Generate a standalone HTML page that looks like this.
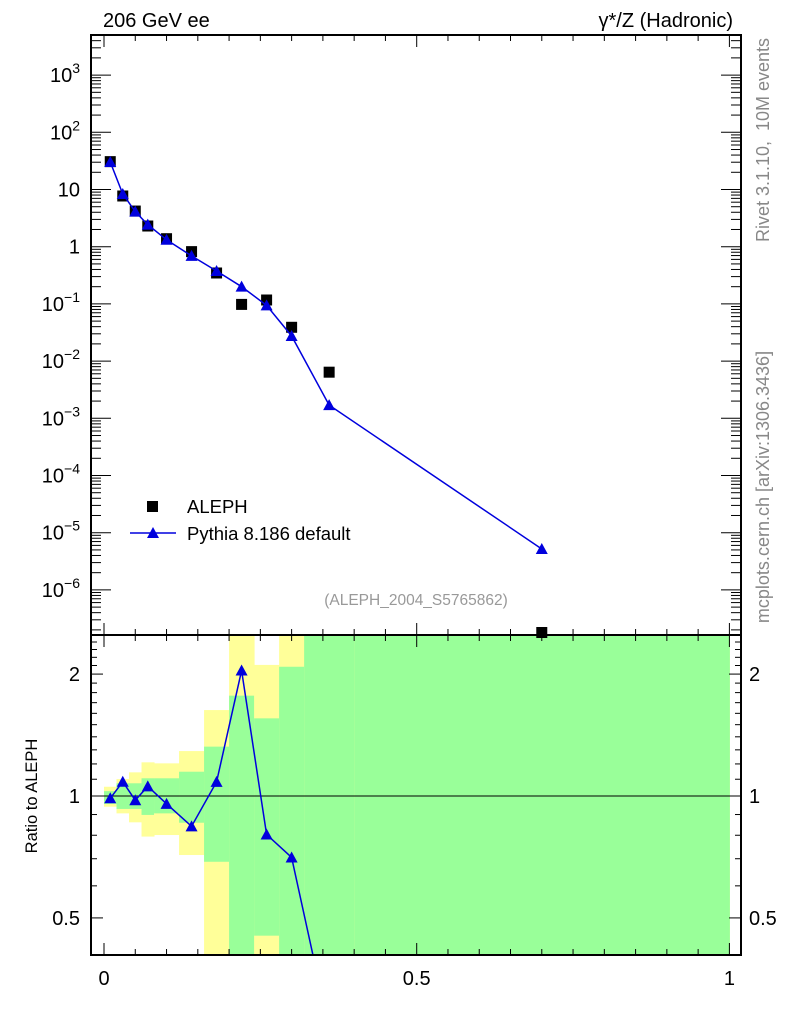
<!DOCTYPE html>
<html><head><meta charset="utf-8">
<style>
html,body{margin:0;padding:0;background:#fff;}
svg{display:block;font-family:"Liberation Sans",Arial,sans-serif;}
</style></head>
<body>
<svg id="chart" width="786" height="1024" viewBox="0 0 786 1024" xmlns="http://www.w3.org/2000/svg">
<g id="bands"></g>
<g id="ratio"></g>
<g id="main"></g>
<g id="axes"></g>
<text x="103" y="27" font-size="20">206 GeV ee</text>
<text x="733" y="27" font-size="20" text-anchor="end">γ*/Z (Hadronic)</text>
<text transform="translate(769,140) rotate(-90)" font-size="18" fill="#888" text-anchor="middle" xml:space="preserve">Rivet 3.1.10,  10M events</text>
<text transform="translate(769,487) rotate(-90)" font-size="18" fill="#888" text-anchor="middle">mcplots.cern.ch [arXiv:1306.3436]</text>
<text x="416" y="605" font-size="15.5" fill="#999" text-anchor="middle">(ALEPH_2004_S5765862)</text>
<text transform="translate(37,796) rotate(-90)" font-size="16.5" text-anchor="middle">Ratio to ALEPH</text>
<g>
  <rect x="147" y="501" width="11" height="11" fill="#000"/>
  <text x="187" y="513" font-size="18.5">ALEPH</text>
  <line x1="130" y1="533" x2="176" y2="533" stroke="#0000dd" stroke-width="1.5"/>
  <polygon points="153,527 159,538 147,538" fill="#0000dd"/>
  <text x="187" y="540" font-size="18.5">Pythia 8.186 default</text>
</g>
</svg>
<script>
const xCenters=[0.01,0.03,0.05,0.07,0.1,0.14,0.18,0.22,0.26,0.3,0.36,0.7];
const alephVals=[30.7,7.7,4.2,2.3,1.38,0.82,0.347,0.098,0.117,0.039,0.0064,1.8e-7];
const pythiaVals=[30.3,8.35,4.1,2.43,1.32,0.69,0.376,0.2,0.094,0.0275,0.0017,5.2e-6];
const binEdges=[0,0.02,0.04,0.06,0.08,0.12,0.16,0.2,0.24,0.28,0.32,0.4,1.0];
const yellowHi=[1.054,1.101,1.144,1.211,1.204,1.291,1.63,3,2.107,3,3,3];
const yellowLo=[0.941,0.906,0.861,0.794,0.801,0.715,0.3,0.3,0.3,0.3,0.3,0.3];
const greenHi=[1.028,1.075,1.075,1.106,1.106,1.148,1.324,1.769,1.555,2.085,3,3];
const greenLo=[0.956,0.929,0.929,0.898,0.906,0.859,0.688,0.3,0.452,0.3,0.3,0.3];
const mainTickLabels=["10","1","10","10","10","10","10","10","10","10"];
const mainTickPowers=[1,0,-1,-2,-3,-4,-5,-6,2,3];

const NS="http://www.w3.org/2000/svg";
const L=91,R=741,T=35,M=635,B=955;
const X=v=>104+v*625.4;
const Y=v=>246.7-57.2*Math.log10(v);
const YR=v=>796-405*Math.log10(v);
function mk(tag,attrs,parent){const e=document.createElementNS(NS,tag);for(const k in attrs)e.setAttribute(k,attrs[k]);parent.appendChild(e);return e;}
const clamp=(v,a,b)=>Math.max(a,Math.min(b,v));

const bg=document.getElementById('bands');
for(let i=0;i<binEdges.length-1;i++){
  const x1=X(binEdges[i]),x2=X(binEdges[i+1]);
  let y1=clamp(YR(yellowHi[i]),M,B),y2=clamp(YR(yellowLo[i]),M,B);
  const r1=mk('rect',{x:x1,y:y1,width:x2-x1+0.5,height:y2-y1,fill:'#ffff99'},bg);
  
  
  y1=clamp(YR(greenHi[i]),M,B);y2=clamp(YR(greenLo[i]),M,B);
  const r2=mk('rect',{x:x1,y:y1,width:x2-x1+0.5,height:y2-y1,fill:'#99ff99'},bg);
  
  
}
const rg=document.getElementById('ratio');
const ref=mk('line',{x1:L,x2:R,y1:YR(1),y2:YR(1),stroke:'#000','stroke-width':1},rg);


const cp=mk('clipPath',{id:'rclip'},rg);mk('rect',{x:L,y:M,width:R-L,height:B-M},cp);
const rpts=[];
for(let i=0;i<11;i++)rpts.push([X(xCenters[i]),YR(pythiaVals[i]/alephVals[i])]);
const rl=mk('polyline',{points:rpts.map(p=>p.join(',')).join(' '),fill:'none',stroke:'#0000dd','stroke-width':1.5,'clip-path':'url(#rclip)'},rg);


rpts.forEach(p=>{if(p[1]<=B){const t=mk('polygon',{points:`${p[0]},${p[1]-6} ${p[0]+6},${p[1]+5} ${p[0]-6},${p[1]+5}`,fill:'#0000dd'},rg);

}});

const mg=document.getElementById('main');
alephVals.forEach((v,i)=>{const y=Math.min(Y(v),M-2);const s=mk('rect',{x:X(xCenters[i])-5.5,y:y-5.5,width:11,height:11,fill:'#000'},mg);

});
const pp=pythiaVals.map((v,i)=>[X(xCenters[i]),Y(v)]);
const pl=mk('polyline',{points:pp.map(p=>p.join(',')).join(' '),fill:'none',stroke:'#0000dd','stroke-width':1.5},mg);


pp.forEach(p=>{const t=mk('polygon',{points:`${p[0]},${p[1]-6} ${p[0]+6},${p[1]+5} ${p[0]-6},${p[1]+5}`,fill:'#0000dd'},mg);

});

const ag=document.getElementById('axes');
const fr1=mk('rect',{x:L,y:T,width:R-L,height:M-T,fill:'none',stroke:'#000','stroke-width':2},ag);


const fr2=mk('rect',{x:L,y:M,width:R-L,height:B-M,fill:'none',stroke:'#000','stroke-width':2},ag);


function ln(x1,y1,x2,y2,w){mk('line',{x1,y1,x2,y2,stroke:'#000','stroke-width':w||1},ag);}
for(let k=0;k<=20;k++){const v=k*0.05,x=X(v),len=(k%10==0)?12:6;
  [T,M].forEach(y0=>ln(x,y0,x,y0+len));
  [M,B].forEach(y0=>ln(x,y0,x,y0-len));
}
[[0,"0"],[0.5,"0.5"],[1,"1"]].forEach(([v,s])=>{const t=mk('text',{x:X(v),y:985,'font-size':20,'text-anchor':'middle'},ag);t.textContent=s;

});
for(let p=-7;p<=3;p++){for(let m=1;m<10;m++){const v=m*Math.pow(10,p),y=Y(v);if(y<T||y>M)continue;
  const len=m==1?20:10;ln(L,y,L+len,y);ln(R,y,R-len,y);}}
mainTickPowers.forEach((p,i)=>{const y=Y(Math.pow(10,p));
  const t=mk('text',{x:80,y:y+7,'font-size':20,'text-anchor':'end'},ag);
  
  
  if(p===0){t.textContent="1";}
  else if(p===1){t.textContent="10";}
  else{t.textContent=mainTickLabels[i];const s=mk('tspan',{'font-size':14,dy:-9},t);s.textContent=String(p).replace('-','−');}
});
for(let v=0.4;v<=2.55;v+=0.1){const vv=Math.round(v*10)/10,y=YR(vv);if(y<M||y>B)continue;
  const major=(vv===0.5||vv===1||vv===2);const len=major?12:6;ln(L,y,L+len,y);ln(R,y,R-len,y);}
[[2,"2"],[1,"1"],[0.5,"0.5"]].forEach(([v,s])=>{const y=YR(v)+7;
  const a=mk('text',{x:80,y,'font-size':20,'text-anchor':'end'},ag);a.textContent=s;
  
  
  const b=mk('text',{x:749,y,'font-size':20},ag);b.textContent=s;
  
  });
</script>
</body></html>
